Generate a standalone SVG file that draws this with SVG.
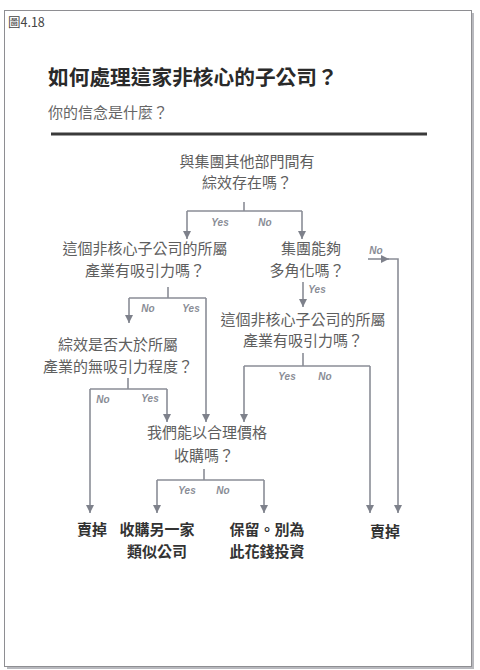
<svg xmlns="http://www.w3.org/2000/svg" width="480" height="670" viewBox="0 0 480 670">
<style>
.q{font-family:"Noto Sans CJK TC","Liberation Sans",sans-serif;font-size:15px;fill:#5e5e5e;text-anchor:middle}
.r{font-family:"Noto Sans CJK TC","Liberation Sans",sans-serif;font-size:15px;font-weight:bold;fill:#333;text-anchor:middle}
.yn{font-family:"Liberation Sans",Arial,sans-serif;font-size:10px;font-weight:bold;font-style:italic;fill:#8a8d96;text-anchor:middle}
.c{fill:none;stroke:#8a8d96;stroke-width:1.6}
</style>
<defs>
<marker id="ah" viewBox="0 0 10 10" refX="10" refY="5" markerWidth="8" markerHeight="8" markerUnits="userSpaceOnUse" orient="auto">
<path d="M0,0 L10,5 L0,10 z" fill="#7e818b"/>
</marker>
</defs>
<rect x="0" y="0" width="480" height="670" fill="#ffffff"/>
<rect x="7" y="13" width="467" height="656" fill="#b8b9be"/>
<rect x="4.5" y="10.5" width="467" height="656" fill="#ffffff" stroke="#8e8e92" stroke-width="1"/>
<g id="header">
<text x="8" y="27" font-family="'Noto Sans CJK TC','Liberation Sans',sans-serif" font-size="12.5" fill="#444">圖4.18</text>
<text x="48" y="85" font-family="'Noto Sans CJK TC','Liberation Sans',sans-serif" font-size="20.7" font-weight="bold" fill="#2a2a2a">如何處理這家非核心的子公司？</text>
<text x="48" y="118" font-family="'Noto Sans CJK TC','Liberation Sans',sans-serif" font-size="15" fill="#666">你的信念是什麼？</text>
<line x1="51" y1="134" x2="427" y2="134" stroke="#3a3a3a" stroke-width="3"/>
</g>
<g id="connectors">
<path class="c" d="M244,202 V211 M187,211 H302"/>
<path class="c" d="M187,211 V239" marker-end="url(#ah)"/>
<path class="c" d="M302,211 V239" marker-end="url(#ah)"/>
<path class="c" d="M368,259 H389" marker-end="url(#ah)"/>
<path class="c" d="M388,259 H398 V513" marker-end="url(#ah)"/>
<path class="c" d="M168,287 V298 M129,298 H206"/>
<path class="c" d="M129,298 V323" marker-end="url(#ah)"/>
<path class="c" d="M206,298 V422" marker-end="url(#ah)"/>
<path class="c" d="M303,282 V307" marker-end="url(#ah)"/>
<path class="c" d="M303,353 V366 M244,366 H370"/>
<path class="c" d="M244,366 V422" marker-end="url(#ah)"/>
<path class="c" d="M370,366 V513" marker-end="url(#ah)"/>
<path class="c" d="M128,378 V389 M90,389 H167"/>
<path class="c" d="M90,389 V513" marker-end="url(#ah)"/>
<path class="c" d="M167,389 V422" marker-end="url(#ah)"/>
<path class="c" d="M204,469 V480 M157,480 H264"/>
<path class="c" d="M157,480 V513" marker-end="url(#ah)"/>
<path class="c" d="M264,480 V513" marker-end="url(#ah)"/>
<text class="yn" x="220" y="226">Yes</text>
<text class="yn" x="265" y="226">No</text>
<text class="yn" x="376" y="254">No</text>
<text class="yn" x="148" y="312">No</text>
<text class="yn" x="191" y="312">Yes</text>
<text class="yn" x="317" y="293">Yes</text>
<text class="yn" x="287" y="380">Yes</text>
<text class="yn" x="325" y="380">No</text>
<text class="yn" x="103" y="403">No</text>
<text class="yn" x="150" y="402">Yes</text>
<text class="yn" x="187" y="494">Yes</text>
<text class="yn" x="223" y="494">No</text>
</g>
<g id="q1"><text class="q" x="247" y="167">與集團其他部門間有</text><text class="q" x="247" y="188">綜效存在嗎？</text></g>
<g id="q2"><text class="q" x="145" y="254">這個非核心子公司的所屬</text><text class="q" x="145" y="276">產業有吸引力嗎？</text></g>
<g id="q3"><text class="q" x="311" y="254">集團能夠</text><text class="q" x="307" y="276">多角化嗎？</text></g>
<g id="q4"><text class="q" x="303" y="325">這個非核心子公司的所屬</text><text class="q" x="303" y="346">產業有吸引力嗎？</text></g>
<g id="q5"><text class="q" x="118" y="350">綜效是否大於所屬</text><text class="q" x="118" y="372">產業的無吸引力程度？</text></g>
<g id="q6"><text class="q" x="207" y="438">我們能以合理價格</text><text class="q" x="204" y="461">收購嗎？</text></g>
<g id="r1"><text class="r" x="92" y="535">賣掉</text></g>
<g id="r2"><text class="r" x="157" y="535">收購另一家</text><text class="r" x="157" y="557">類似公司</text></g>
<g id="r3"><text class="r" x="267" y="535">保留。別為</text><text class="r" x="267" y="557">此花錢投資</text></g>
<g id="r4"><text class="r" x="385" y="537">賣掉</text></g>
</svg>
